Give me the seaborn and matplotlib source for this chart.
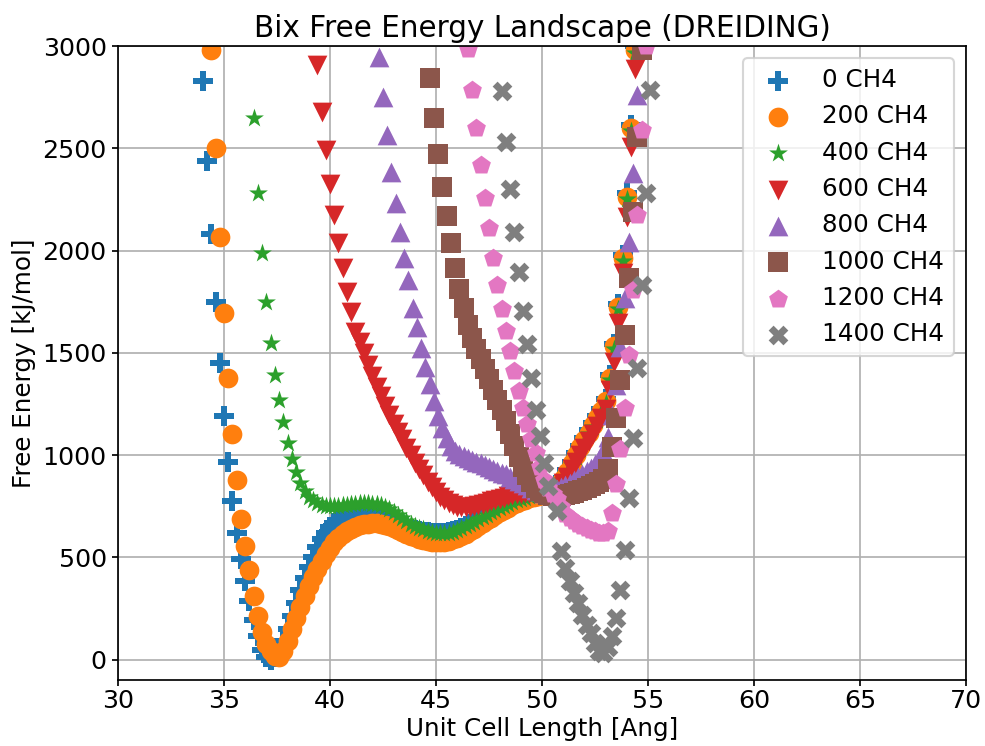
import numpy as np
import pandas as pd
import matplotlib
matplotlib.use("Agg")
import matplotlib.pyplot as plt
import seaborn as sns

# ---------------- data ----------------
labels = ["0 CH4", "200 CH4", "400 CH4", "600 CH4", "800 CH4",
          "1000 CH4", "1200 CH4", "1400 CH4"]
colors = ["#1f77b4", "#ff7f0e", "#2ca02c", "#d62728", "#9467bd",
          "#8c564b", "#e377c2", "#7f7f7f"]
markers = ["P", "o", "*", "v", "^", "s", "p", "X"]

step = 0.2  # unit-cell-length sampling step [Ang]
x_start = [34.0, 34.4, 36.4, 39.4, 42.3, 44.7, 46.5, 48.1]

e_0 = [2830, 2440, 2080, 1750, 1450, 1190, 965, 775, 620, 490,
       383, 285, 195, 114, 49, 12, 0, 10, 42, 90,
       150, 212, 275, 338, 398, 452, 502, 548, 587, 620,
       647, 667, 682, 693, 701, 707, 711, 714, 715, 715,
       713, 709, 703, 695, 686, 676, 666, 657, 648, 640,
       634, 629, 625, 622, 620, 619, 619, 620, 623, 628,
       634, 642, 651, 661, 672, 683, 695, 707, 718, 729,
       740, 750, 759, 768, 776, 783, 790, 796, 801, 806,
       810, 820, 833, 846, 862, 890, 925, 968, 1008, 1045,
       1082, 1120, 1155, 1190, 1225, 1275, 1390, 1545, 1740, 1978,
       2280, 2615, 3000]

e_200 = [2980, 2500, 2068, 1694, 1377, 1104, 876, 689, 555, 440,
         312, 215, 134, 78, 40, 16, 12, 40, 92, 148,
         204, 258, 310, 358, 403, 445, 483, 517, 547, 573,
         595, 613, 628, 640, 649, 656, 661, 665, 667, 667,
         665, 660, 653, 644, 634, 624, 614, 605, 597, 590,
         584, 580, 577, 575, 575, 577, 581, 587, 595, 604,
         615, 627, 640, 653, 666, 680, 693, 706, 719, 731,
         743, 754, 764, 773, 781, 789, 796, 802, 808, 816,
         828, 841, 856, 882, 917, 960, 1000, 1037, 1073, 1110,
         1145, 1180, 1215, 1262, 1376, 1531, 1726, 1962, 2263, 2597,
         2980]

e_400 = [2648, 2281, 1988, 1749, 1549, 1392, 1270, 1160, 1060, 980,
         915, 862, 822, 795, 778, 766, 758, 753, 750, 750,
         752, 755, 758, 760, 762, 763, 763, 763, 762, 760,
         755, 748, 736, 722, 707, 692, 678, 665, 654, 644,
         636, 629, 624, 620, 618, 618, 620, 625, 632, 641,
         651, 662, 673, 685, 697, 709, 720, 731, 742, 752,
         761, 770, 778, 785, 792, 798, 803, 807, 810, 816,
         826, 838, 852, 876, 910, 952, 992, 1030, 1066, 1103,
         1138, 1173, 1208, 1252, 1365, 1520, 1712, 1948, 2250, 2585,
         2965]

e_600 = [2907, 2678, 2491, 2325, 2174, 2035, 1913, 1799, 1697, 1600,
         1553, 1497, 1440, 1385, 1335, 1288, 1240, 1194, 1153, 1113,
         1076, 1035, 998, 962, 930, 900, 870, 843, 818, 797,
         779, 765, 754, 747, 744, 744, 746, 750, 755, 761,
         767, 773, 780, 786, 792, 798, 803, 807, 811, 814,
         816, 818, 819, 819, 820, 824, 832, 843, 865, 895,
         930, 965, 1000, 1035, 1070, 1105, 1140, 1180, 1225, 1320,
         1457, 1644, 1888, 2165, 2507, 2890]

e_800 = [2947, 2752, 2565, 2386, 2231, 2093, 1963, 1857, 1720, 1624,
         1522, 1430, 1345, 1262, 1192, 1132, 1083, 1045, 1020, 1003,
         993, 985, 977, 968, 959, 950, 941, 932, 923, 914,
         905, 895, 885, 874, 863, 852, 841, 831, 822, 816,
         818, 824, 832, 842, 853, 865, 878, 891, 905, 920,
         936, 955, 980, 1020, 1090, 1195, 1340, 1530, 1766, 2043,
         2377, 2760]

e_1000 = [2842, 2646, 2470, 2312, 2168, 2035, 1916, 1811, 1717, 1636,
          1570, 1520, 1470, 1420, 1370, 1320, 1270, 1218, 1165, 1105,
          1045, 990, 942, 900, 866, 840, 822, 812, 805, 801,
          800, 801, 804, 809, 815, 822, 830, 838, 847, 856,
          867, 885, 930, 1040, 1181, 1368, 1588, 1865, 2190, 2557,
          2980]

e_1200 = [2986, 2784, 2597, 2418, 2255, 2109, 1962, 1830, 1712, 1608,
          1508, 1410, 1315, 1232, 1152, 1078, 1008, 942, 878, 840,
          810, 785, 745, 712, 690, 675, 663, 652, 643, 635,
          627, 620, 617, 627, 716, 860, 1030, 1229, 1490, 1808,
          2174, 2589, 3000]

e_1400 = [2778, 2533, 2300, 2093, 1895, 1702, 1545, 1375, 1221, 1091,
          961, 847, np.nan, 725, 529, 448, 383, 326, 277, 220,
          171, 130, 81, 41, 33, 60, 114, 204, 342, 537,
          790, 1083, 1425, 1832, 2280, 2784]

energies = [e_0, e_200, e_400, e_600, e_800, e_1000, e_1200, e_1400]

xticks = [30, 35, 40, 45, 50, 55, 60, 65, 70]
yticks = [0, 500, 1000, 1500, 2000, 2500, 3000]

# ---------------- figure ----------------
dpi = 154
fig, ax = plt.subplots(figsize=(985 / dpi, 746 / dpi), dpi=dpi)
fig.subplots_adjust(left=0.1198, right=0.9807, top=0.9383, bottom=0.0885)

ax.grid(True, color="#b0b0b0", linewidth=0.8)
ax.set_axisbelow(True)

for lab, col, mk, x0, e in zip(labels, colors, markers, x_start, energies):
    y = np.asarray(e, dtype=float)
    x = np.round(x0 + step * np.arange(len(y)), 2)
    df = pd.DataFrame({"L": x, "E": y}).dropna()
    sns.scatterplot(data=df, x="L", y="E", marker=mk, color=col, s=85,
                    linewidth=0, label=lab, ax=ax, zorder=2)

ax.set_xlim(30, 70)
ax.set_ylim(-100, 3000)
ax.set_xticks(xticks)
ax.set_yticks(yticks)
ax.tick_params(labelsize=11.8, length=2.8)
ax.tick_params(axis="x", pad=1.5)
ax.tick_params(axis="y", pad=2.5)
ax.set_xlabel("Unit Cell Length [Ang]", fontsize=11.5, labelpad=2)
ax.set_ylabel("Free Energy [kJ/mol]", fontsize=11.5, labelpad=3)
ax.set_title("Bix Free Energy Landscape (DREIDING)", fontsize=13.8, pad=4)
ax.legend(loc="upper right", fontsize=11.5)

fig.savefig("out.png", dpi=dpi)
